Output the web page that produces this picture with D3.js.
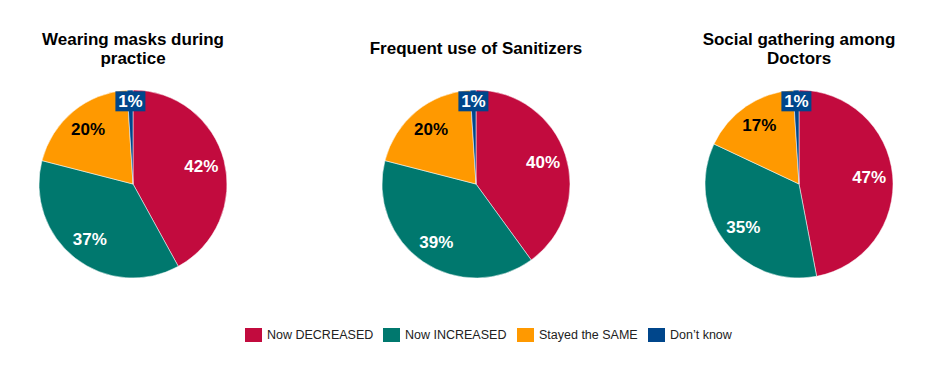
<!DOCTYPE html>
<html>
<head>
<meta charset="utf-8">
<script src="https://cdn.jsdelivr.net/npm/d3@7"></script>
<style>
  body { margin: 0; background: #fff; }
  svg { display: block; font-family: Arial, "Liberation Sans", sans-serif; }
</style>
</head>
<body>
<div id="chart"></div>
<script>
// data
var categories = ['Now DECREASED', 'Now INCREASED', 'Stayed the SAME', 'Don\u2019t know'];
var colors = ['#C20B3E', '#00786E', '#FF9900', '#00468B'];
var titles = [['Wearing masks during', 'practice'], ['Frequent use of Sanitizers'], ['Social gathering among', 'Doctors']];
var masksValues = [42, 37, 20, 1];
var sanitizerValues = [40, 39, 20, 1];
var gatheringValues = [47, 35, 17, 1];
var allValues = [masksValues, sanitizerValues, gatheringValues];

// some constants for the page
var width = 940;
var height = 389;
var radius = 94;
var pieCentersX = [133, 476, 799];
var pieCenterY = 184;

var svg = d3.select('#chart')
    .append('svg')
    .attr('width', width)
    .attr('height', height);

var pie = d3.pie().sort(null).value(d => d);
var arc = d3.arc().innerRadius(0).outerRadius(radius);
var labelArc = d3.arc().innerRadius(radius * 0.75).outerRadius(radius * 0.75);
var topArc = d3.arc().innerRadius(radius * 0.88).outerRadius(radius * 0.88);
var color = d3.scaleOrdinal().domain(d3.range(categories.length)).range(colors);

allValues.forEach(function(values, i) {
    var g = svg.append('g')
        .attr('transform', 'translate(' + pieCentersX[i] + ',' + pieCenterY + ')');

    // title
    var t = titles[i];
    var titleY = t.length === 2 ? 41 : 50;
    t.forEach(function(line, j) {
        svg.append('text')
            .attr('x', pieCentersX[i])
            .attr('y', titleY + j * 19)
            .attr('text-anchor', 'middle')
            .attr('dominant-baseline', 'middle')
            .attr('font-size', 17)
            .attr('font-weight', 'bold')
            .attr('fill', '#000')
            .text(line);
    });

    var arcs = pie(values);

    g.selectAll('path')
        .data(arcs)
        .enter()
        .append('path')
        .attr('d', arc)
        .attr('fill', (d, k) => color(k))
        .attr('stroke', '#fff')
        .attr('stroke-width', 0.5);

    arcs.forEach(function(d, k) {
        var small = d.data < 5;
        var pos = small ? topArc.centroid(d) : labelArc.centroid(d);
        var txt = d.data + '%';
        if (small) {
            g.append('rect')
                .attr('x', pos[0] - 15)
                .attr('y', pos[1] - 10)
                .attr('width', 30)
                .attr('height', 20)
                .attr('fill', colors[3]);
        }
        g.append('text')
            .attr('x', pos[0])
            .attr('y', pos[1])
            .attr('text-anchor', 'middle')
            .attr('dominant-baseline', 'central')
            .attr('font-size', 17)
            .attr('font-weight', 'bold')
            .attr('fill', k === 2 ? '#000' : '#fff')
            .text(txt);
    });
});

// legend
var legendX = [245, 383, 517, 648];
var legend = svg.append('g');
categories.forEach(function(c, i) {
    legend.append('rect')
        .attr('x', legendX[i])
        .attr('y', 328)
        .attr('width', 17)
        .attr('height', 14)
        .attr('fill', colors[i]);
    legend.append('text')
        .attr('x', legendX[i] + 22)
        .attr('y', 335)
        .attr('dominant-baseline', 'central')
        .attr('font-size', 12.5)
        .attr('fill', '#222')
        .text(c);
});
</script>
</body>
</html>
